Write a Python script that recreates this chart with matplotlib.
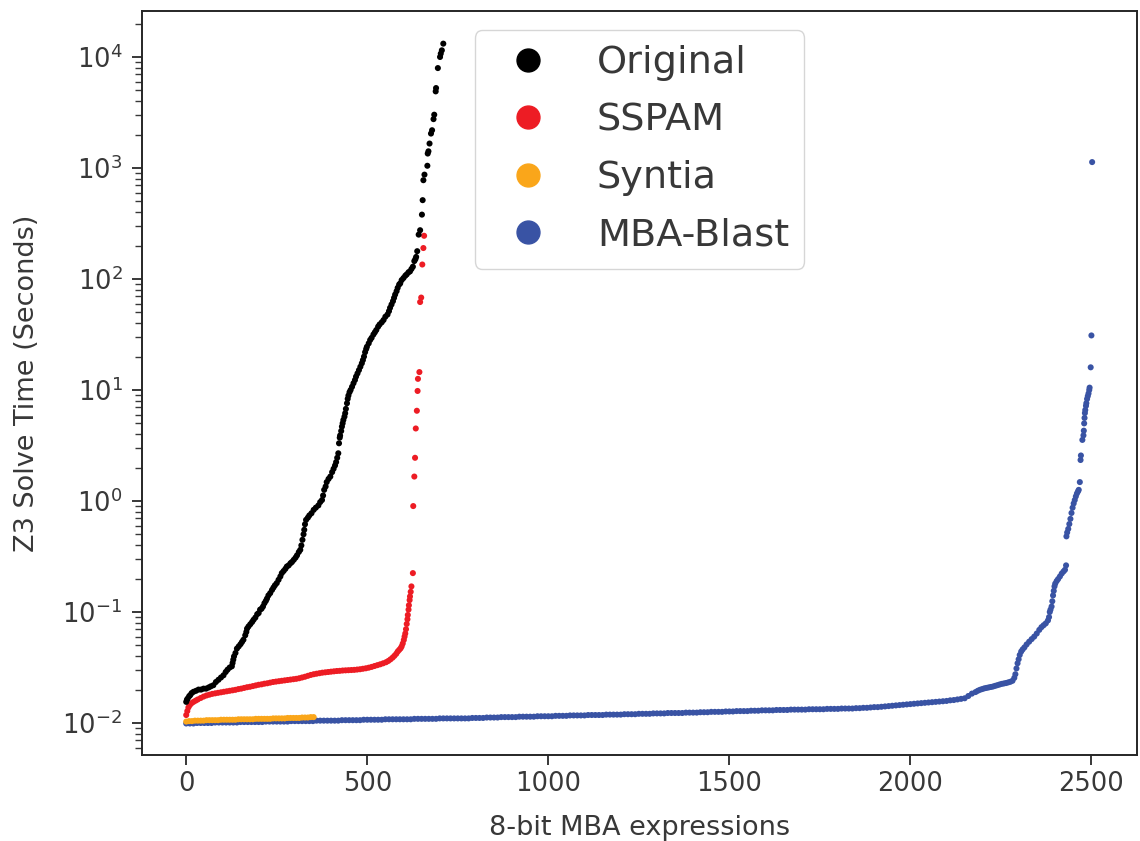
import matplotlib
matplotlib.use("Agg")
import matplotlib.pyplot as plt
from matplotlib.lines import Line2D
from matplotlib.ticker import NullFormatter, FixedLocator, LogFormatterSciNotation

# ---------------- data (rank of expression, Z3 solve time in seconds) ----------------
series_names = ["Original", "SSPAM", "Syntia", "MBA-Blast"]
series_colors = ["#000000", "#ed1c24", "#faa61a", "#3953a4"]

orig_x = [0, 2, 4, 8, 11, 15, 20, 27, 34, 41, 48, 55, 62, 68, 75, 82, 89, 96, 103, 109,
          114, 120, 126, 128, 130, 132, 136, 140, 145, 150, 154, 158, 163, 166, 168, 172,
          177, 182, 186, 191, 196, 200, 204, 208, 212, 216, 220, 223, 227, 232, 237, 241,
          245, 250, 255, 260, 264, 269, 274, 278, 283, 288, 292, 297, 302, 306, 311, 315,
          318, 321, 324, 326, 328, 331, 336, 340, 346, 352, 358, 365, 370, 375, 378, 381,
          385, 388, 393, 398, 403, 407, 411, 414, 417, 420, 422, 424, 425, 428, 430, 432,
          434, 437, 439, 441, 444, 446, 448, 451, 454, 458, 462, 466, 469, 473, 477, 481,
          485, 488, 491, 494, 497, 499, 504, 508, 512, 517, 521, 525, 530, 534, 540, 545,
          550, 556, 560, 563, 567, 571, 574, 577, 581, 584, 588, 591, 595, 600, 605, 609,
          614, 618, 622, 626, 630, 633, 635, 638, 642, 646, 651, 653, 655, 658, 666, 667,
          669, 672, 676, 679, 683, 685, 689, 690, 695, 701, 703, 706, 710]
orig_y = [0.0155, 0.0162, 0.0166, 0.0174, 0.0178, 0.0186, 0.0191, 0.0195, 0.0200, 0.0200,
          0.0204, 0.0204, 0.0209, 0.0214, 0.0219, 0.0234, 0.0245, 0.0257, 0.0269, 0.0288,
          0.0302, 0.0316, 0.0324, 0.0347, 0.0372, 0.0398, 0.0427, 0.0468, 0.0490, 0.0513,
          0.0537, 0.0562, 0.0617, 0.0661, 0.0708, 0.0741, 0.0776, 0.0813, 0.0851, 0.0891,
          0.0955, 0.0977, 0.105, 0.107, 0.112, 0.120, 0.126, 0.132, 0.141, 0.148,
          0.158, 0.166, 0.174, 0.182, 0.195, 0.209, 0.224, 0.234, 0.245, 0.257,
          0.263, 0.275, 0.282, 0.295, 0.309, 0.324, 0.347, 0.363, 0.398, 0.447,
          0.501, 0.550, 0.617, 0.676, 0.708, 0.741, 0.776, 0.832, 0.871, 0.912,
          0.977, 1.02, 1.12, 1.26, 1.35, 1.48, 1.58, 1.66, 1.82, 1.95,
          2.09, 2.24, 2.45, 2.69, 3.31, 3.72, 3.89, 4.27, 4.68, 5.01,
          5.37, 5.75, 6.17, 6.76, 7.59, 8.32, 8.91, 9.55, 10.0, 10.7,
          11.5, 12.3, 13.2, 14.1, 15.1, 16.2, 17.4, 18.6, 20.0, 21.9,
          23.4, 24.5, 26.3, 28.2, 29.5, 31.6, 33.1, 34.7, 37.2, 38.9,
          40.7, 42.7, 45.7, 47.9, 51.3, 55.0, 58.9, 63.1, 67.6, 72.4,
          77.6, 83.2, 89.1, 91.2, 97.7, 102, 107, 110, 115, 117,
          123, 129, 145, 151, 158, 178, 251, 275, 380, 513,
          776, 871, 1047, 1349, 1413, 1660, 2042, 2188, 2754, 3020,
          4898, 5248, 7943, 10000, 10715, 11482, 13183]

sspam_x = [0, 3, 6, 10, 15, 20, 26, 32, 40, 48, 56, 64, 72, 80, 88, 96, 104, 112, 120, 128,
           136, 144, 152, 160, 168, 176, 184, 192, 200, 208, 216, 224, 232, 240, 248, 256,
           264, 272, 280, 288, 296, 304, 312, 320, 328, 336, 344, 352, 360, 368, 376, 384,
           392, 400, 408, 416, 424, 432, 440, 448, 456, 464, 472, 480, 488, 496, 504, 512,
           520, 528, 536, 544, 552, 558, 564, 570, 575, 580, 584, 588, 592, 595, 598, 601,
           603, 605, 607, 609, 611, 612, 614, 615, 617, 618, 620, 622, 626, 627, 630, 632,
           634, 637, 639, 640, 644, 646, 649, 652, 655, 657]
sspam_y = [0.0118, 0.0128, 0.0138, 0.0145, 0.0151, 0.0155, 0.0159, 0.0163,
           0.0168, 0.0173, 0.0177, 0.0180, 0.0183, 0.0185, 0.0187, 0.0189, 0.0191, 0.0193,
           0.0195, 0.0197, 0.0199, 0.0202, 0.0204, 0.0207, 0.0210, 0.0212, 0.0215, 0.0218,
           0.0221, 0.0223, 0.0226, 0.0228, 0.0231, 0.0234, 0.0236, 0.0238, 0.0240, 0.0242,
           0.0244, 0.0246, 0.0248, 0.0250, 0.0253, 0.0257, 0.0261, 0.0266, 0.0271, 0.0275,
           0.0278, 0.0281, 0.0284, 0.0286, 0.0288, 0.0290, 0.0292, 0.0294, 0.0295, 0.0297,
           0.0298, 0.0299, 0.0300, 0.0301, 0.0303, 0.0305, 0.0308, 0.0311, 0.0315, 0.0320,
           0.0326, 0.0332, 0.0338, 0.0345, 0.0353,
           0.0362, 0.0374, 0.0388, 0.0403, 0.0420, 0.0440, 0.0455, 0.0470, 0.0490, 0.0520,
           0.0560, 0.0600, 0.0640, 0.0700, 0.0780, 0.0860, 0.0940, 0.1050, 0.1150, 0.1280,
           0.1380, 0.1520, 0.1700, 0.2240,
           0.90, 1.66, 2.45, 4.5, 6.5, 9.8, 12.6, 14.5, 62, 68, 135, 190, 245]

syntia_x = list(range(0, 353, 8))
syntia_y = [0.0103, 0.0104, 0.0104, 0.0105, 0.0105, 0.0105, 0.0105, 0.0106, 0.0106, 0.0106,
            0.0106, 0.0106, 0.0107, 0.0107, 0.0107, 0.0107, 0.0107, 0.0107, 0.0108, 0.0108,
            0.0108, 0.0108, 0.0108, 0.0108, 0.0109, 0.0109, 0.0109, 0.0109, 0.0109, 0.0109,
            0.0110, 0.0110, 0.0110, 0.0110, 0.0110, 0.0111, 0.0111, 0.0111, 0.0111, 0.0111,
            0.0112, 0.0112, 0.0112, 0.0113, 0.0113]

blast_flat_x = list(range(0, 2171, 10))
blast_flat_y = [
    0.0099, 0.0099, 0.0099, 0.0100, 0.0100, 0.0100, 0.0100, 0.0100, 0.0101, 0.0101,
    0.0101, 0.0101, 0.0101, 0.0101, 0.0101, 0.0102, 0.0102, 0.0102, 0.0102, 0.0102,
    0.0102, 0.0102, 0.0103, 0.0103, 0.0103, 0.0103, 0.0103, 0.0103, 0.0103, 0.0104,
    0.0104, 0.0104, 0.0104, 0.0104, 0.0104, 0.0104, 0.0105, 0.0105, 0.0105, 0.0105,
    0.0105, 0.0105, 0.0105, 0.0106, 0.0106, 0.0106, 0.0106, 0.0106, 0.0106, 0.0107,
    0.0107, 0.0107, 0.0107, 0.0107, 0.0107, 0.0108, 0.0108, 0.0108, 0.0108, 0.0108,
    0.0108, 0.0108, 0.0108, 0.0109, 0.0109, 0.0109, 0.0109, 0.0109, 0.0109, 0.0109,
    0.0110, 0.0110, 0.0110, 0.0110, 0.0110, 0.0110, 0.0110, 0.0110, 0.0110, 0.0111,
    0.0111, 0.0111, 0.0111, 0.0112, 0.0112, 0.0112, 0.0112, 0.0113, 0.0113, 0.0113,
    0.0113, 0.0113, 0.0114, 0.0114, 0.0114, 0.0114, 0.0114, 0.0115, 0.0115, 0.0115,
    0.0115, 0.0115, 0.0116, 0.0116, 0.0116, 0.0116, 0.0117, 0.0117, 0.0117, 0.0117,
    0.0117, 0.0118, 0.0118, 0.0118, 0.0118, 0.0118, 0.0119, 0.0119, 0.0119, 0.0119,
    0.0119, 0.0120, 0.0120, 0.0120, 0.0120, 0.0121, 0.0121, 0.0121, 0.0121, 0.0122,
    0.0122, 0.0122, 0.0122, 0.0123, 0.0123, 0.0123, 0.0123, 0.0123, 0.0124, 0.0124,
    0.0124, 0.0124, 0.0125, 0.0125, 0.0125, 0.0126, 0.0126, 0.0126, 0.0126, 0.0127,
    0.0127, 0.0127, 0.0128, 0.0128, 0.0128, 0.0128, 0.0129, 0.0129, 0.0129, 0.0130,
    0.0130, 0.0130, 0.0130, 0.0131, 0.0131, 0.0131, 0.0131, 0.0132, 0.0132, 0.0132,
    0.0132, 0.0132, 0.0133, 0.0133, 0.0133, 0.0133, 0.0133, 0.0134, 0.0134, 0.0134,
    0.0134, 0.0135, 0.0135, 0.0135, 0.0135, 0.0136, 0.0136, 0.0137, 0.0137, 0.0138,
    0.0139, 0.0139, 0.0140, 0.0141, 0.0142, 0.0143, 0.0144, 0.0145, 0.0146, 0.0147,
    0.0148, 0.0149, 0.0150, 0.0151, 0.0152, 0.0153, 0.0154, 0.0155, 0.0156, 0.0157,
    0.0158, 0.0160, 0.0161, 0.0163, 0.0165, 0.0167, 0.0175, 0.0184]

blast_tail_x = [2180, 2186, 2192, 2198, 2204, 2210, 2216, 2222, 2228, 2234, 2240, 2246, 2252,
                2258, 2264, 2270, 2276, 2282, 2287, 2290, 2293, 2296, 2299, 2302, 2306, 2310,
                2315, 2321, 2328, 2335, 2342, 2349, 2356, 2362, 2368, 2374, 2380, 2383, 2385,
                2387, 2390, 2392, 2394, 2396, 2398, 2400, 2404, 2408, 2413, 2418, 2423, 2427,
                2430, 2431, 2433, 2436, 2439, 2442, 2445, 2448, 2451, 2454, 2457, 2460, 2463,
                2465, 2468, 2470, 2471, 2475, 2478, 2479, 2480, 2481, 2482, 2483, 2485, 2486,
                2488, 2490, 2492, 2494, 2495, 2498, 2500, 2502]
blast_tail_y = [0.0190, 0.0195, 0.0199, 0.0202, 0.0205, 0.0207, 0.0209, 0.0211, 0.0213,
                0.0216, 0.0219, 0.0222, 0.0225, 0.0227, 0.0229, 0.0232, 0.0235, 0.0240,
                0.0255, 0.0275, 0.0310, 0.0345, 0.0375, 0.0410, 0.0440, 0.0460, 0.0480,
                0.0510, 0.0540, 0.0570, 0.0600, 0.0640, 0.0690, 0.0730, 0.0760, 0.0790,
                0.0840, 0.090, 0.100, 0.105, 0.112, 0.125, 0.141, 0.155, 0.170, 0.180,
                0.190, 0.198, 0.209, 0.222, 0.232, 0.240, 0.263, 0.48, 0.52, 0.56, 0.62,
                0.69, 0.78, 0.87, 0.95, 1.02, 1.10, 1.17, 1.22, 1.26, 1.48, 2.34, 2.57,
                3.55, 3.9, 4.3, 5.0, 5.6, 6.2, 6.6, 7.2, 7.6, 8.3, 8.8, 9.3, 10.0, 10.5,
                16, 31, 1130]

blast_x = blast_flat_x + blast_tail_x
blast_y = blast_flat_y + blast_tail_y

x_ticks = [0, 500, 1000, 1500, 2000, 2500]
y_ticks = [1e-2, 1e-1, 1e0, 1e1, 1e2, 1e3, 1e4]

x_label = "8-bit MBA expressions"
y_label = "Z3 Solve Time (Seconds)"

# ---------------- style ----------------
ink = "#383838"
plt.rcParams.update({
    "font.family": ["DejaVu Sans"],
    "text.color": ink,
    "axes.labelcolor": ink,
    "axes.edgecolor": "#262626",
    "xtick.color": ink,
    "ytick.color": ink,
})

fig = plt.figure(figsize=(11.40, 8.41), dpi=100)
ax = fig.add_axes([0.1246, 0.1023, 0.8728, 0.8846])

dot = 19
ax.scatter(blast_x, blast_y, s=dot, color=series_colors[3], edgecolors="none", zorder=2)
ax.scatter(syntia_x, syntia_y, s=dot, color=series_colors[2], edgecolors="none", zorder=3)
ax.scatter(sspam_x, sspam_y, s=dot, color=series_colors[1], edgecolors="none", zorder=3)
ax.scatter(orig_x, orig_y, s=dot, color=series_colors[0], edgecolors="none", zorder=3)

ax.set_yscale("log")
ax.set_xlim(-122, 2626)
ax.set_ylim(10 ** -2.288, 10 ** 4.414)
ax.set_xticks(x_ticks)
ax.yaxis.set_major_locator(FixedLocator(y_ticks))
ax.yaxis.set_major_formatter(LogFormatterSciNotation())
ax.yaxis.set_minor_formatter(NullFormatter())

ax.tick_params(axis="both", which="major", labelsize=18.5, length=7.2, width=1.4,
               direction="out")
ax.tick_params(axis="y", which="major", pad=7)
ax.tick_params(axis="x", which="major", pad=4)
ax.tick_params(axis="y", which="minor", length=5.0, width=1.0)
for sp in ax.spines.values():
    sp.set_linewidth(1.4)

ax.set_xlabel(x_label, fontsize=19.5, labelpad=13)
ax.set_ylabel(y_label, fontsize=19.5, labelpad=16)

handles = [Line2D([], [], linestyle="none", marker="o", markersize=16.5,
                  markerfacecolor=c, markeredgecolor=c) for c in series_colors]
ax.legend(handles, series_names, loc="upper center", fontsize=27.5, labelspacing=0.56)

fig.savefig("out.png", dpi=100)
